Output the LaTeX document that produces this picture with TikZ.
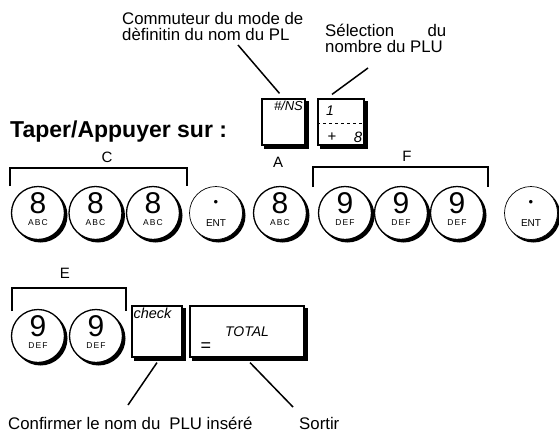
\documentclass[tikz,border=0pt]{standalone}
\usepackage{fontspec}
\setmainfont{Liberation Sans}
\usetikzlibrary{positioning, backgrounds}

\newcommand{\keydigit}{\fontsize{30}{30}\selectfont}
\newcommand{\keysub}{\fontsize{8.5}{9}\selectfont\addfontfeatures{LetterSpace=12}}
\newcommand{\entfont}{\fontsize{10}{10}\selectfont}
\newcommand{\keyface}[2]{\shortstack{{\keydigit #1}\\[3pt]{\keysub #2}}\rule[-8pt]{0pt}{0pt}}

\begin{document}
\begin{tikzpicture}[
    x=1pt, y=-1pt,
    every node/.style={font=\fontsize{16.8}{16}\selectfont},
    note/.style={inner sep=0pt},
    numkey/.style={circle, draw, line width=1.3pt, fill=white, minimum size=53pt,
                   inner sep=0pt},
    entkey/.style={numkey, line width=0.7pt, font=\entfont,
                   text height=27pt, text depth=0pt,
                   label={[inner sep=0pt, yshift=10pt, font=\fontsize{13}{13}\selectfont]center:\textbullet}},
    fnkey/.style={rectangle, draw, line width=1.2pt, fill=white, inner sep=0pt},
    keyshadow/.style={fill=black},
    inscr/.style={inner sep=2.5pt, font=\fontsize{13}{13}\selectfont\itshape},
    grouplabel/.style={inner sep=0pt, font=\fontsize{15}{15}\selectfont},
    bracket/.style={line width=1.8pt},
    leader/.style={line width=1.5pt},
]
\useasboundingbox (0,0) rectangle (559,432);

% Texts
\node[note, anchor=north west, align=left] (commut) at (122,12)
    {Commuteur du mode de\\dèfinitin du nom du PL};
\node[note, anchor=north west, align=left] (selec) at (325,24)
    {\makebox[121pt][s]{Sélection du}\\nombre du PLU};
\node[note, anchor=base west, font=\fontsize{23}{23}\selectfont\bfseries] (taper) at (10,137)
    {Taper/Appuyer sur :};

% Function keys (top)
\node[fnkey, minimum width=43pt, minimum height=46pt,
      label={[inscr, anchor=north east]north east:\#/NS}] (nskey) at (283.5,122) {};
\node[fnkey, minimum width=46pt, minimum height=46pt] (plukey) at (341,122) {};
\draw[dashed, line width=0.6pt] (plukey.west |- 0,123) -- (plukey.east |- 0,123);
\node[inscr, font=\fontsize{14}{14}\selectfont\itshape] (pluone) at (330,111) {1};
\node[inscr, font=\fontsize{15}{15}\selectfont] (pluplus) at (332,137) {+};
\node[inscr, font=\fontsize{15}{15}\selectfont\itshape] (plueight) at (358,137) {8};

% Row 1
\node[numkey] (c1) at (38,213)    {\keyface{8}{ABC}};
\node[numkey] (c2) at (95.5,213)  {\keyface{8}{ABC}};
\node[numkey] (c3) at (153,213)   {\keyface{8}{ABC}};
\node[entkey] (ent1) at (216,213) {ENT};
\node[numkey] (a1) at (280,213)   {\keyface{8}{ABC}};
\node[numkey] (f1) at (345,213)   {\keyface{9}{DEF}};
\node[numkey] (f2) at (401,213)   {\keyface{9}{DEF}};
\node[numkey] (f3) at (457,213)   {\keyface{9}{DEF}};
\node[entkey] (ent2) at (531,213) {ENT};

% Row 2
\node[numkey] (e1) at (38,336)  {\keyface{9}{DEF}};
\node[numkey] (e2) at (96,336)  {\keyface{9}{DEF}};
\node[fnkey, minimum width=50pt, minimum height=51pt,
      label={[inscr, font=\fontsize{14.5}{14.5}\selectfont\itshape, anchor=north west, inner sep=2pt]north west:check}]
      (checkkey) at (157,331.5) {};
\node[fnkey, minimum width=114pt, minimum height=51pt, font=\fontsize{14}{14}\selectfont\itshape]
      (totalkey) at (247,331.5) {TOTAL};
\node[note, font=\fontsize{18}{18}\selectfont] (eqsign) at (206,347) {=};

% Key shadows
\begin{pgfonlayer}{background}
  \foreach \k in {c1,c2,c3,ent1,a1,f1,f2,f3,ent2,e1,e2}
    \fill[keyshadow] ([shift={(2.5pt,-2.5pt)}]\k.center) circle (27pt);
  \foreach \k in {nskey,plukey,checkkey,totalkey}
    \fill[keyshadow] ([shift={(3pt,-3pt)}]\k.south west) rectangle ([shift={(3pt,-3pt)}]\k.north east);
\end{pgfonlayer}

% Groups
\draw[bracket] (10,186) -- (10,168) -- (187,168) -- (187,186);
\draw[bracket] (313,187) -- (313,167) -- (488,167) -- (488,187);
\draw[bracket] (12,311) -- (12,288) -- (126,288) -- (126,311);
\node[grouplabel] (labc) at (107,157) {C};
\node[grouplabel] (laba) at (278,162) {A};
\node[grouplabel] (labf) at (407,156) {F};
\node[grouplabel] (labe) at (65,273)  {E};

% Leaders
\coordinate (nstip) at (238,45);
\coordinate (plutip) at (368,68);
\coordinate (checktip) at (128,405);
\coordinate (totaltip) at (293,407);
\draw[leader] ([shift={(-4pt,5pt)}]nskey.north) -- (nstip);
\draw[leader] ([shift={(-9pt,4pt)}]plukey.north) -- (plutip);
\draw[leader] ([yshift=-5pt]checkkey.south) -- (checktip);
\draw[leader] ([shift={(3pt,-5pt)}]totalkey.south) -- (totaltip);

% Bottom texts
\node[note, anchor=base west] (confirm) at (8,429) {Confirmer le nom du\hspace{9pt}PLU inséré};
\node[note, anchor=base west] (sortir) at (299,429) {Sortir};

\end{tikzpicture}
\end{document}
